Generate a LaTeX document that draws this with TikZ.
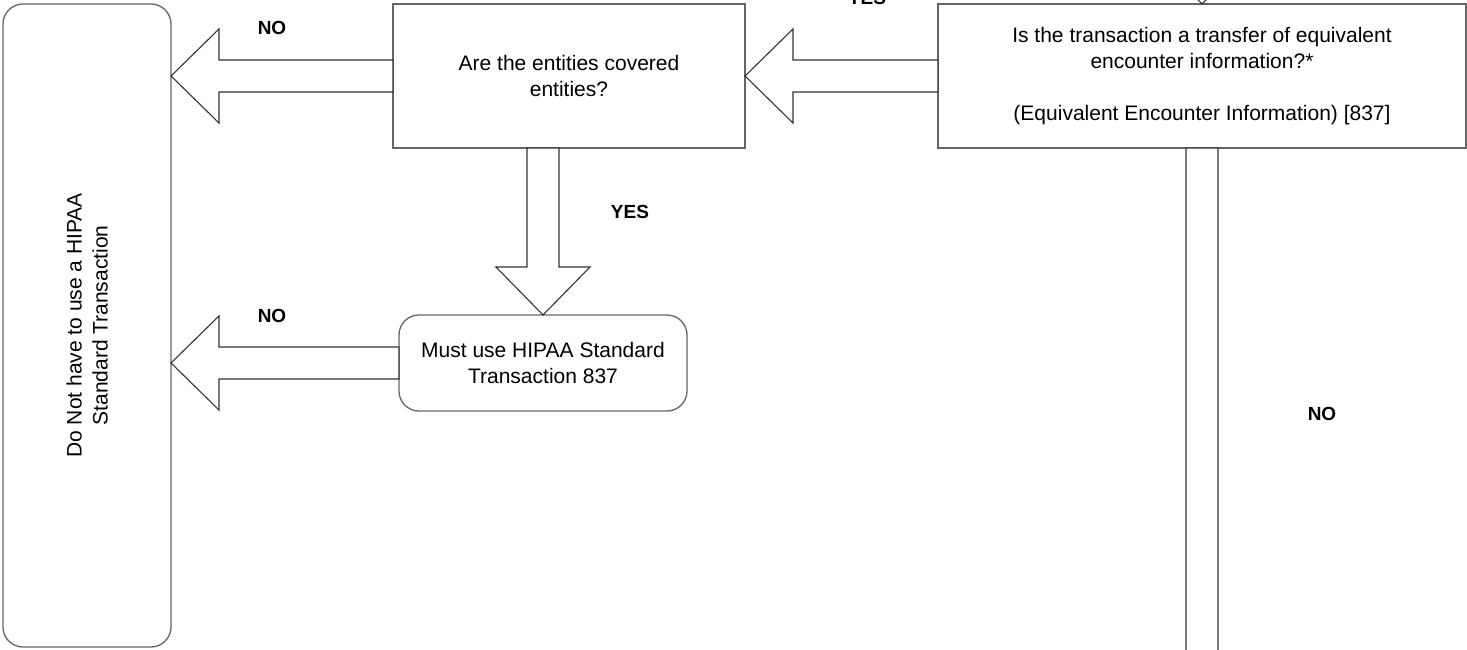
\documentclass[tikz,border=0pt]{standalone}
\usepackage{fontspec}
\setmainfont{Liberation Sans}
\usetikzlibrary{calc}

\begin{document}
\begin{tikzpicture}[
x=1pt, y=-1pt,
  box/.style = {rectangle, draw=black!60, line width=1.3pt, align=center,
                inner sep=0pt, outer sep=0pt},% decision boxes
 rbox/.style = {box, rounded corners=20pt},% end boxes
  ans/.style = {font=\bfseries\fontsize{19}{22}\selectfont},
 barr/.style = {draw=black!80, line width=1.1pt, fill=white, line join=miter},
   font=\fontsize{21}{26}\selectfont
                    ]
\useasboundingbox (0,0) rectangle (1467,650);
\clip (0,0) rectangle (1467,650);
% stop box is turned, so its south side is on the right
\node (stop) [rbox, rotate=90, minimum width=643pt, minimum height=168pt] at (87,325.5)
      {Do Not have to use a HIPAA\\ Standard Transaction};
\node (q1) [box, minimum width=352pt, minimum height=144pt] at (569,76)
      {Are the entities covered\\ entities?};
\node (q2) [box, minimum width=528pt, minimum height=144pt] at (1202,76)
      {Is the transaction a transfer of equivalent\\ encounter information?*\\[26pt]
       (Equivalent Encounter Information) [837]};
\node (must) [rbox, minimum width=288pt, minimum height=96pt] at (543,363)
      {Must use HIPAA Standard\\ Transaction 837};
\coordinate (t1) at (stop.south |- q1.west);
\coordinate (t2) at (stop.south |- must.west);
\coordinate (s3) at (q1.south -| must.north);
\coordinate (top) at (1202,-200);% comes in from off the page
\coordinate (bot) at (1202,900);
\foreach \from/\to in {q1.west/t1, must.west/t2, s3/must.north,
                       q2.west/q1.east, q2.south/bot, top/q2.north}% <-- block arrows
  \draw[barr] (\to) -- ($(\to)!48pt!(\from)!47pt!90:(\from)$)
                    -- ($(\to)!48pt!(\from)!16pt!90:(\from)$)
                    -- ($(\from)!16pt!-90:(\to)$)
                    -- ($(\from)!16pt!90:(\to)$)
                    -- ($(\to)!48pt!(\from)!16pt!-90:(\from)$)
                    -- ($(\to)!48pt!(\from)!47pt!-90:(\from)$) -- cycle;
\node (no1) [ans] at (272,28) {NO};
\node (no2) [ans] at (272,316) {NO};
\node (yes1) [ans] at (630,212) {YES};
\node (no3) [ans] at (1322,414) {NO};
\node (yes2) [ans] at (867,-2) {YES};
\end{tikzpicture}
\end{document}
